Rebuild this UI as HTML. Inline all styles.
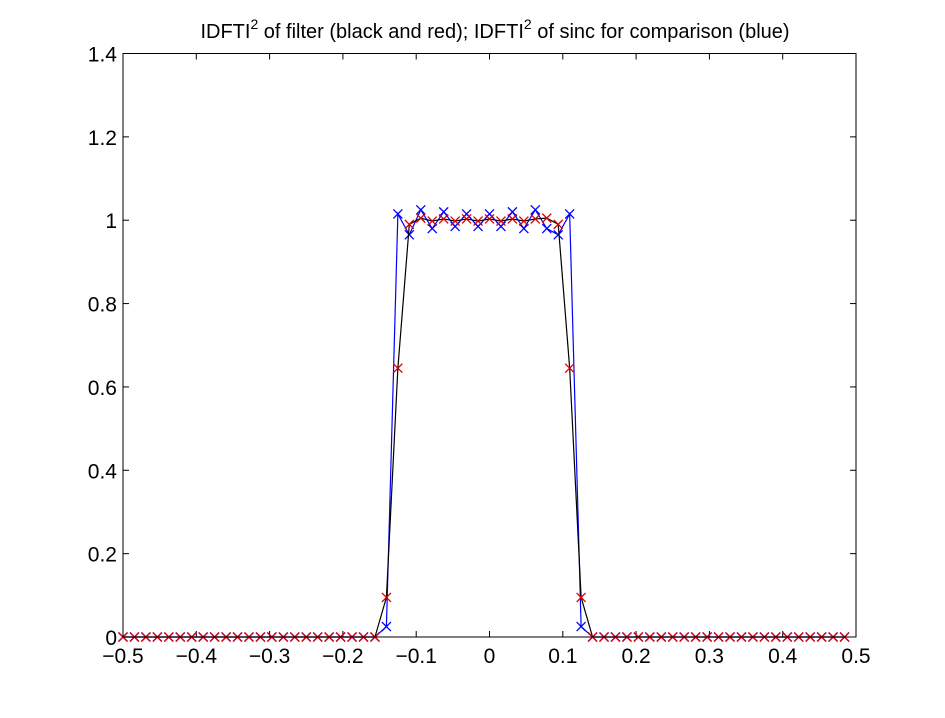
<!DOCTYPE html>
<html><head><meta charset="utf-8"><style>
body{margin:0;background:#fff;}
svg{display:block;font-family:"Liberation Sans",Arial,sans-serif;}
</style></head><body>
<svg id="chart" width="945" height="718" viewBox="0 0 945 718">
<rect x="0" y="0" width="945" height="718" fill="#fff"/>
<text x="495" y="38" text-anchor="middle" font-size="20">IDFTI<tspan dy="-9" font-size="14">2</tspan><tspan dy="9"> of filter (black and red); IDFTI</tspan><tspan dy="-9" font-size="14">2</tspan><tspan dy="9"> of sinc for comparison (blue)</tspan></text>
<g id="axes"></g>
<g id="series"></g>
<rect x="123" y="53.5" width="733" height="583.5" fill="none" stroke="#000" stroke-width="1"/>
</svg>
<script>
const xTicks=[-0.5,-0.4,-0.3,-0.2,-0.1,0,0.1,0.2,0.3,0.4,0.5];
const xTickLabels=["\u22120.5","\u22120.4","\u22120.3","\u22120.2","\u22120.1","0","0.1","0.2","0.3","0.4","0.5"];
const yTicks=[0,0.2,0.4,0.6,0.8,1,1.2,1.4];
const yTickLabels=["0","0.2","0.4","0.6","0.8","1","1.2","1.4"];
// sample index k, x = k/64, k=-32..31
const sampleIdx=[-32,-31,-30,-29,-28,-27,-26,-25,-24,-23,-22,-21,-20,-19,-18,-17,-16,-15,-14,-13,-12,-11,-10,-9,-8,-7,-6,-5,-4,-3,-2,-1,0,1,2,3,4,5,6,7,8,9,10,11,12,13,14,15,16,17,18,19,20,21,22,23,24,25,26,27,28,29,30,31];
// k=-32..-10 (23 zeros), k=-9..8 (18 values), k=9..31 (23 zeros)
const filterVals=[0,0,0,0,0,0,0,0,0,0,0,0,0,0,0,0,0,0,0,0,0,0,0,
 0.095,0.645,0.99,1.005,0.998,1.003,0.998,1.003,0.998,1.003,0.998,1.003,0.998,1.003,1.005,0.99,0.645,0.095,
 0,0,0,0,0,0,0,0,0,0,0,0,0,0,0,0,0,0,0,0,0,0,0];
const sincVals=[0,0,0,0,0,0,0,0,0,0,0,0,0,0,0,0,0,0,0,0,0,0,0,
 0.025,1.015,0.965,1.025,0.98,1.02,0.985,1.015,0.985,1.015,0.985,1.02,0.98,1.025,0.98,0.965,1.015,0.025,
 0,0,0,0,0,0,0,0,0,0,0,0,0,0,0,0,0,0,0,0,0,0,0];
const X0=123,X1=856,Y0=637,Y1=53.5;
const sx=v=>X0+(v+0.5)*(X1-X0);
const sy=v=>Y0-(v/1.4)*(Y0-Y1);
const NS="http://www.w3.org/2000/svg";
const axes=document.getElementById('axes'),ser=document.getElementById('series');
function mk(t,a,p){const e=document.createElementNS(NS,t);for(const k in a)e.setAttribute(k,a[k]);p.appendChild(e);return e;}
xTicks.forEach((v,i)=>{const x=sx(v);
 let t=mk('line',{x1:x,y1:Y0,x2:x,y2:Y0-6,stroke:'#000'},axes);
 
 
 t=mk('line',{x1:x,y1:Y1,x2:x,y2:Y1+6,stroke:'#000'},axes);
 
 
 const l=mk('text',{x:x,y:Y0+26,'text-anchor':'middle','font-size':21},axes);l.textContent=xTickLabels[i];
 
 
});
yTicks.forEach((v,i)=>{const y=sy(v);
 let t=mk('line',{x1:X0,y1:y,x2:X0+6,y2:y,stroke:'#000'},axes);
 
 
 t=mk('line',{x1:X1,y1:y,x2:X1-6,y2:y,stroke:'#000'},axes);
 
 
 const l=mk('text',{x:X0-6,y:y+8,'text-anchor':'end','font-size':21},axes);l.textContent=yTickLabels[i];
 
 
});
function line(vals,color,name){
 const pts=sampleIdx.map((k,i)=>sx(k/64)+','+sy(vals[i])).join(' ');
 const p=mk('polyline',{points:pts,fill:'none',stroke:color,'stroke-width':1.2},ser);
 
 
}
function marks(vals,color,name){
 sampleIdx.forEach((k,i)=>{const x=sx(k/64),y=sy(vals[i]),r=4.5;
  const g=mk('path',{d:`M${x-r},${y-r}L${x+r},${y+r}M${x-r},${y+r}L${x+r},${y-r}`,stroke:color,'stroke-width':1.3,fill:'none'},ser);
  
  
 });
}
line(sincVals,'#0000ff','sinc-line');
marks(sincVals,'#0000ff','sinc-marker');
line(filterVals,'#000000','filter-line');
marks(filterVals,'#dd0000','filter-marker');
</script>
</body></html>
